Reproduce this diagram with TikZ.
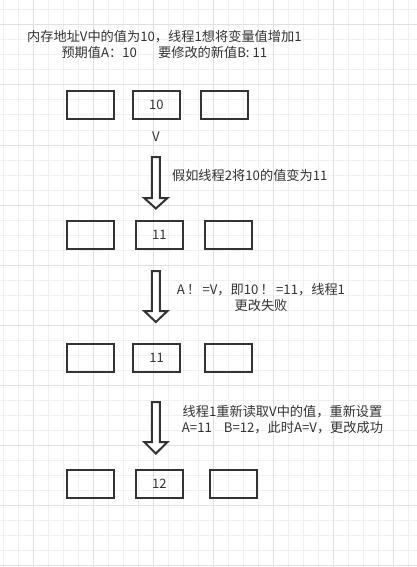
\documentclass[tikz,border=0pt]{standalone}
\usepackage{fontspec}
\setmainfont{Noto Sans CJK SC}
\definecolor{linec}{HTML}{333333}
\definecolor{txtc}{HTML}{333333}
\definecolor{gminor}{HTML}{F0F0F0}
\definecolor{gmajor}{HTML}{E0E0E0}
\newcommand\txt{\fontsize{13.2}{16}\selectfont}
\newcommand\bxt{\fontsize{13}{16}\selectfont}
\begin{document}
\begin{tikzpicture}[x=1pt,y=-1pt,
  box/.style={draw=linec, line width=2pt, minimum width=47.3pt, minimum height=28pt, inner sep=0pt, font=\bxt, text=txtc},
  lbl/.style={font=\txt, text=txtc, inner sep=0pt, align=center},
  blk/.style={draw=linec, line width=2pt, fill=white, line join=miter}]
\useasboundingbox (0,0) rectangle (417,567);
\fill[white] (0,0) rectangle (417,567);
% grid
\foreach \i in {0,...,27} \draw[gminor, line width=1pt] ({3.3+15*\i},0) -- ({3.3+15*\i},567);
\foreach \i in {0,...,37} \draw[gminor, line width=1pt] (0,{10+15*\i}) -- (417,{10+15*\i});
\foreach \i in {0,...,6} \draw[gmajor, line width=1pt] ({33.3+60*\i},0) -- ({33.3+60*\i},567);
\foreach \i in {0,...,9} \draw[gmajor, line width=1pt] (0,{25+60*\i}) -- (417,{25+60*\i});

% title
\node[lbl] (title) at (164.4,44) {内存地址V中的值为10，线程1想将变量值增加1\\预期值A：10\hspace{1.6em}要修改的新值B: 11};

% row 1
\node[box] (r1a) at (90.35,104.7) {};
\node[box] (r1b) at (156.35,104.7) {10};
\node[box] (r1c) at (224.35,104.7) {};
\node[lbl] (v) at (156,137) {V};

% arrow 1
\draw[blk] (151.9,157) -- (151.9,198) -- (144.2,198) -- (155.85,208.5) -- (167.5,198) -- (159.8,198) -- (159.8,157) -- cycle;
\node[lbl] (l1) at (249.8,175) {假如线程2将10的值变为11};

% row 2
\node[box] (r2a) at (90.35,234.5) {};
\node[box] (r2b) at (159.35,234.5) {11};
\node[box] (r2c) at (228.35,234.5) {};

% arrow 2
\draw[blk] (151.9,271) -- (151.9,311) -- (144.2,311) -- (155.85,322) -- (167.5,311) -- (159.8,311) -- (159.8,271) -- cycle;
\node[lbl] (l2) at (261,297.9) {A\,！\,=V，即10\,！\,=11，线程1\\更改失败};

% row 3
\node[box] (r3a) at (90.35,357.7) {};
\node[box] (r3b) at (156.65,357.7) {11};
\node[box] (r3c) at (228.35,357.7) {};

% arrow 3
\draw[blk] (151.9,402) -- (151.9,442) -- (144.2,442) -- (155.85,453.5) -- (167.5,442) -- (159.8,442) -- (159.8,402) -- cycle;
\node[lbl] (l3) at (282.5,419.7) {线程1重新读取V中的值，重新设置\\A=11\hspace{0.9em}B=12，此时A=V，更改成功};

% row 4
\node[box] (r4a) at (90.35,483.7) {};
\node[box] (r4b) at (159.35,483.7) {12};
\node[box] (r4c) at (233.35,483.7) {};
\end{tikzpicture}
\end{document}
